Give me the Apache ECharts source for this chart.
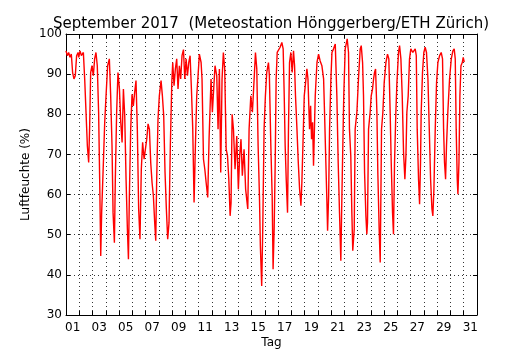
<!DOCTYPE html>
<html>
<head>
<meta charset="utf-8">
<script src="https://cdn.jsdelivr.net/npm/echarts@6/dist/echarts.min.js"></script>
<style>html,body{margin:0;padding:0;background:#fff;}#c{width:530px;height:350px;}</style>
</head>
<body>
<div id="c"></div>
<script>
// time in days since 1 Sep 2017 00:00
const dayTime = [
0.00,0.10,0.20,0.30,0.40,0.50,0.60,0.70,0.80,0.91,0.96,1.06,1.16,1.31,1.41,1.51,1.61,1.71,1.78,1.86,1.96,
2.06,2.16,2.26,2.36,2.46,2.54,2.62,2.69,2.82,2.92,3.02,3.14,3.27,3.37,3.47,3.55,3.65,3.72,3.82,3.92,
4.03,4.13,4.23,4.33,4.43,4.53,4.63,4.71,4.78,4.88,4.98,
5.08,5.18,5.28,5.38,5.48,5.58,5.68,5.78,5.89,5.99,6.09,6.19,6.29,6.39,6.49,6.59,6.69,6.77,6.84,6.94,
7.04,7.17,7.27,7.37,7.47,7.57,7.67,7.77,7.87,7.98,8.05,8.15,8.25,8.35,8.45,8.55,8.65,8.75,8.86,8.96,
9.06,9.16,9.26,9.36,9.46,9.56,9.66,9.76,9.86,9.96,10.06,
10.19,10.26,10.37,10.47,10.57,10.69,10.79,10.94,11.04,11.14,11.24,11.37,11.47,11.57,11.67,11.77,11.87,11.97,
12.08,12.18,12.28,12.38,12.45,12.53,12.63,12.75,12.88,13.00,13.10,13.20,13.30,13.43,13.55,13.71,13.81,13.94,
14.06,14.19,14.29,14.39,14.49,14.59,14.66,14.76,14.84,14.94,15.04,15.14,15.27,15.34,15.45,15.55,15.62,
15.70,15.78,15.85,15.93,16.03,16.15,16.28,16.38,16.46,16.53,16.61,16.71,16.78,16.86,16.96,17.06,17.16,17.24,
17.31,17.42,17.52,17.62,17.72,17.79,17.87,17.97,18.07,18.17,18.25,18.37,18.45,18.52,18.60,18.67,18.80,18.93,
19.05,19.17,19.30,19.43,19.50,19.60,19.68,19.73,19.81,19.88,19.98,20.06,20.18,20.31,20.43,20.53,20.63,20.73,20.81,
20.95,21.06,21.21,21.31,21.38,21.48,21.56,21.63,21.74,21.81,21.94,22.06,22.19,22.27,22.37,22.44,22.52,22.62,22.69,22.74,
22.82,22.94,23.02,23.12,23.20,23.27,23.35,23.45,23.52,23.62,23.70,23.80,23.90,24.00,24.13,24.25,24.35,24.45,24.53,24.63,
24.70,24.78,24.88,24.96,25.08,25.16,25.26,25.36,25.46,25.56,25.64,25.71,25.81,25.91,26.01,26.16,26.34,
26.42,26.49,26.59,26.67,26.74,26.79,26.89,26.99,27.09,27.19,27.30,27.40,27.50,27.60,27.67,27.75,27.85,27.95,
28.05,28.18,28.30,28.40,28.48,28.55,28.63,28.70,28.80,28.93,29.06,29.18,29.28,29.36,29.43,29.51,29.56,29.64,
29.71,29.79,29.89,29.96,30.04
];
const humidity = [
95.8,94.6,95.4,94.2,95.0,90.4,88.8,89.6,94.6,95.4,94.2,95.8,94.6,95.4,88.8,80.5,72.2,68.0,76.3,90.4,92.1,
89.6,93.8,95.4,92.1,80.5,63.8,44.7,55.5,68.0,78.0,84.6,92.1,93.8,84.6,72.2,55.5,48.0,63.8,80.5,90.4,
86.3,78.0,73.0,86.3,79.6,63.8,51.4,43.9,59.7,76.3,85.0,
82.1,85.5,88.4,76.3,56.4,48.9,66.3,73.0,68.8,71.3,73.8,77.6,76.3,68.0,63.0,59.7,53.0,48.5,63.8,78.8,
84.6,88.4,84.6,79.6,65.5,56.4,48.9,53.0,72.2,87.9,92.9,87.1,91.3,93.8,86.3,92.1,88.8,94.6,96.1,88.8,
93.8,89.6,92.9,94.6,86.3,76.3,58.0,72.2,84.6,89.6,95.0,
92.9,88.8,68.8,66.3,63.0,59.3,73.8,88.8,80.5,86.3,92.1,89.6,76.3,91.3,65.5,88.8,95.4,91.3,
71.3,69.7,63.8,54.7,58.0,80.0,76.3,66.3,74.6,61.3,69.7,73.8,64.7,71.3,61.3,56.4,76.3,84.6,
80.5,88.8,95.4,91.3,72.2,59.7,47.2,37.2,51.4,76.3,84.6,90.4,92.9,89.6,72.2,59.7,41.4,
51.4,68.0,88.8,95.4,95.8,96.7,97.9,96.3,84.6,72.2,63.8,55.5,76.3,92.9,95.4,90.4,95.8,92.1,
84.6,76.3,68.0,61.3,57.2,63.0,72.2,84.6,87.9,91.3,88.8,76.3,82.1,73.8,78.0,67.2,84.6,92.9,
95.0,93.3,92.1,88.8,80.5,68.0,58.0,51.0,59.7,76.3,88.8,95.4,96.3,97.5,84.6,68.0,55.5,43.5,59.7,
84.6,96.3,98.8,95.4,76.3,69.7,55.5,46.0,51.4,76.3,80.5,88.8,96.3,97.1,92.9,84.6,65.5,54.7,50.1,53.0,
76.3,80.5,84.6,86.3,88.8,90.4,91.3,80.5,65.5,51.4,43.1,76.3,80.5,87.9,92.9,95.0,93.8,80.5,68.0,55.5,
50.1,68.0,80.5,87.9,95.4,97.1,93.8,84.6,70.5,63.8,69.7,80.5,84.6,93.8,96.3,95.4,96.3,
94.6,76.3,63.8,57.6,68.0,80.5,90.4,95.4,96.7,95.4,88.8,76.3,63.8,56.4,54.7,61.3,76.3,87.9,
92.9,94.6,95.4,93.8,76.3,68.0,63.8,72.2,80.5,88.8,93.8,95.8,96.3,93.8,76.3,63.8,60.1,68.0,
84.6,92.1,92.9,94.2,93.0
];
const dayLabels = ['01','02','03','04','05','06','07','08','09','10','11','12','13','14','15','16',
'17','18','19','20','21','22','23','24','25','26','27','28','29','30','31'];
const yTicks = [30,40,50,60,70,80,90,100];
const titleText = 'September 2017  (Meteostation Hönggerberg/ETH Zürich)';

const FONT = 'DejaVu Sans';
const dotted = {show:true, lineStyle:{color:'#000', width:0.8, type:[1,3]}};
const frameLine = {show:true, onZero:false, lineStyle:{color:'#000', width:1}};
const inTick = {show:true, inside:true, length:4, lineStyle:{color:'#000', width:1}};

const chart = echarts.init(document.getElementById('c'), null, {renderer:'canvas'});
chart.setOption({
  animation:false,
  backgroundColor:'#fff',
  title:{text:titleText, left:48, top:12,
    textStyle:{fontFamily:FONT, fontSize:15, fontWeight:'normal', color:'#000'}},
  grid:{left:66, right:53, top:34, bottom:35, containLabel:false, outerBoundsMode:'none'},
  xAxis:[
    {type:'value', min:0, max:31, interval:1, position:'bottom',
      axisLine:frameLine, axisTick:inTick, axisLabel:{show:false}, splitLine:dotted},
    {type:'value', min:0, max:31, interval:1, position:'top',
      axisLine:frameLine, axisTick:inTick, axisLabel:{show:false}, splitLine:{show:false}},
    {type:'category', data:dayLabels, boundaryGap:true, position:'bottom',
      axisLine:{show:false}, axisTick:{show:false}, splitLine:{show:false},
      axisLabel:{interval:1, margin:7, fontFamily:FONT, fontSize:12, color:'#000'},
      name:'Tag', nameLocation:'middle', nameGap:22, nameMoveOverlap:false,
      nameTextStyle:{fontFamily:FONT, fontSize:12, color:'#000'}}
  ],
  yAxis:[
    {type:'value', min:yTicks[0], max:yTicks[yTicks.length-1], interval:10, position:'left',
      axisLine:frameLine, axisTick:inTick, splitLine:dotted,
      axisLabel:{margin:4, fontFamily:FONT, fontSize:12, color:'#000'},
      name:'Luftfeuchte (%)', nameLocation:'middle', nameGap:34, nameRotate:90, nameMoveOverlap:false,
      nameTextStyle:{fontFamily:FONT, fontSize:12, color:'#000'}},
    {type:'value', min:yTicks[0], max:yTicks[yTicks.length-1], interval:10, position:'right',
      axisLine:frameLine, axisTick:inTick, splitLine:{show:false}, axisLabel:{show:false}}
  ],
  series:[{
    type:'line', xAxisIndex:0, yAxisIndex:0, showSymbol:false, symbol:'none',
    lineStyle:{color:'#ff0000', width:1.4}, itemStyle:{color:'#ff0000'},
    data: dayTime.map((t,i)=>[t, humidity[i]])
  }]
});
</script>
</body>
</html>
